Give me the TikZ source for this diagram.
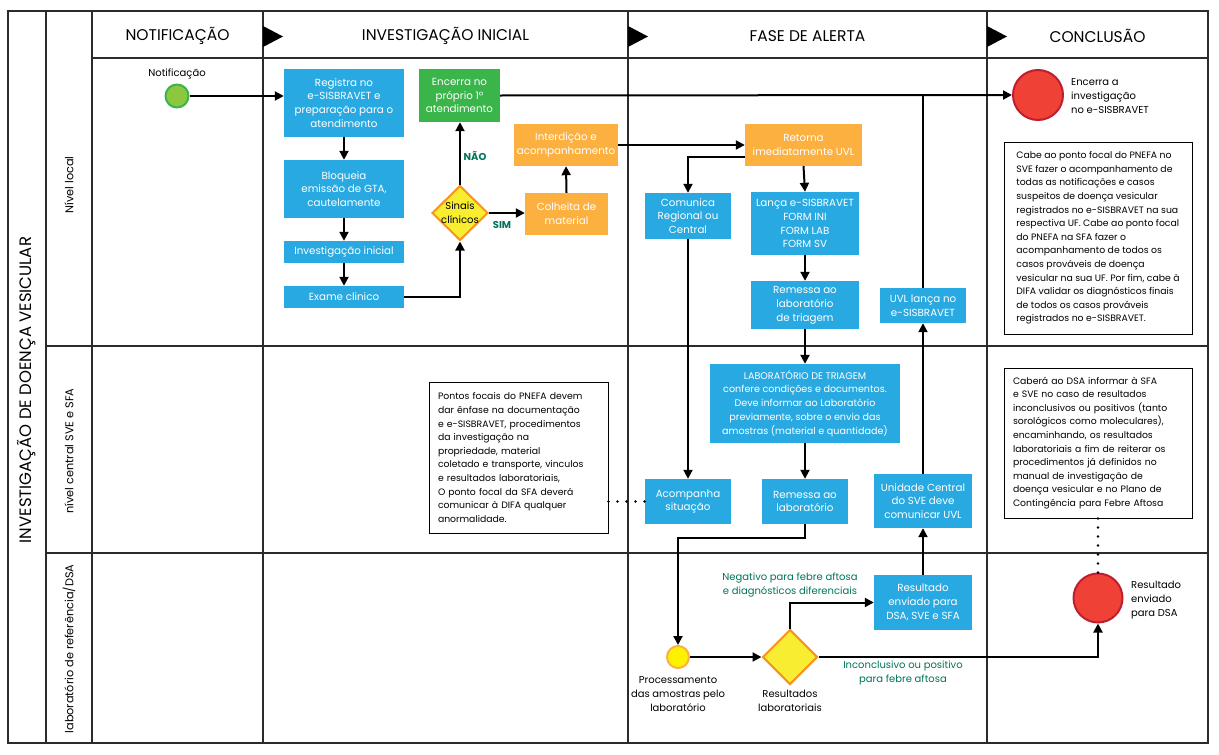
\documentclass[tikz,border=0pt]{standalone}
\usepackage{fontspec}
\setmainfont{Poppins}
\usetikzlibrary{arrows.meta,shapes.geometric}
\definecolor{cblue}{HTML}{29A9E1}
\definecolor{corange}{HTML}{FBB040}
\definecolor{cgreen}{HTML}{39B54A}
\definecolor{clgreen}{HTML}{8DC63F}
\definecolor{cred}{HTML}{EF4136}
\definecolor{cdred}{HTML}{BE1E2D}
\definecolor{cyellow}{HTML}{F9ED32}
\definecolor{cdorange}{HTML}{F7941D}
\definecolor{ctext}{HTML}{00745A}
\definecolor{cgrid}{HTML}{2B2B2B}
\newcommand\bxf{\fontsize{10.3}{13.8}\selectfont}
\newcommand\lbf{\fontsize{10}{13.8}\selectfont}
\newcommand\ntf{\fontsize{9.3}{13.6}\selectfont}
\newcommand\hdf{\fontsize{15.5}{17}\selectfont}
\newcommand\lnf{\fontsize{11.3}{13}\selectfont}
\tikzset{
  grid/.style={line width=1.3pt, draw=cgrid},
  bx/.style={fill=cblue, text=white, align=center, inner sep=0pt, font=\bxf},
  ob/.style={fill=corange, text=white, align=center, inner sep=0pt, font=\bxf},
  gb/.style={fill=cgreen, text=white, align=center, inner sep=0pt, font=\bxf},
  note/.style={draw=black, line width=1pt, fill=white, align=left, inner xsep=4pt, inner ysep=0pt, font=\ntf},
  wnote/.style={note, inner xsep=9pt},
  arr/.style={line width=2pt, -{Triangle[length=9pt,width=9pt]}},
  ln/.style={line width=2pt},
  dots/.style={line width=2.6pt, line cap=round, dash pattern=on 0pt off 9pt},
  lbl/.style={font=\lbf, align=center, inner sep=0pt},
  glbl/.style={font=\lbf, text=ctext, align=center, inner sep=0pt},
  hdr/.style={font=\hdf, inner sep=0pt},
  lane/.style={font=\lnf, rotate=90, inner sep=0pt},
  tri/.style={fill=black},
}
\begin{document}
\begin{tikzpicture}[x=1pt,y=-1pt]
\useasboundingbox (0,0) rectangle (1219,755);
% grid
\draw[grid] (8,11) rectangle (1208,743);
\draw[grid] (46,11) -- (46,743);
\draw[grid] (92,11) -- (92,743);
\draw[grid] (263,11) -- (263,743);
\draw[grid] (628,11) -- (628,743);
\draw[grid] (987,11) -- (987,743);
\draw[grid] (92,58) -- (1208,58);
\draw[grid] (46,346) -- (1208,346);
\draw[grid] (46,553) -- (1208,553);
% header triangles
\fill[tri] (263,26) -- (283,36.5) -- (263,47) -- cycle;
\fill[tri] (628,26) -- (648,36.5) -- (628,47) -- cycle;
\fill[tri] (987,26) -- (1007,36.5) -- (987,47) -- cycle;
% headers
\node[hdr] (h1) at (177.5,36) {NOTIFICAÇÃO};
\node[hdr] (h2) at (445.5,36) {INVESTIGAÇÃO INICIAL};
\node[hdr] (h3) at (807.5,36) {FASE DE ALERTA};
\node[hdr] (h4) at (1097.5,36) {CONCLUSÃO};
\node[hdr, font=\fontsize{16.5}{18}\selectfont, rotate=90] (title) at (27,390) {INVESTIGAÇÃO DE DOENÇA VESICULAR};
\node[lane] (l1) at (69,185) {Nível local};
\node[lane] (l2) at (69,451) {nível central SVE e SFA};
\node[lane] (l3) at (69,649) {laboratório de referência/DSA};
% nodes
\node[circle, fill=clgreen, draw=cgreen, line width=2pt, minimum size=23pt, inner sep=0pt] (not) at (177,96) {};
\node[lbl] (notl) at (177,74) {Notificação};
\node[bx, minimum width=120pt, minimum height=68pt] (reg) at (344,103) {Registra no\\e-SISBRAVET e\\preparação para o\\atendimento};
\node[bx, minimum width=120pt, minimum height=58pt] (blq) at (344,189) {Bloqueia\\emissão de GTA,\\cautelamente};
\node[bx, minimum width=120pt, minimum height=22pt] (inv) at (344,252) {Investigação inicial};
\node[bx, minimum width=120pt, minimum height=22pt] (exa) at (344,297) {Exame clinico};
\node[diamond, fill=cyellow, draw=cdorange, line width=2pt, minimum width=56pt, minimum height=55pt, inner sep=0pt] (sin) at (460,213) {};
\node[lbl] (sint) at (460,213) {Sinais\\clínicos};
\node[gb, minimum width=81pt, minimum height=53pt] (enc) at (459.5,95.5) {Encerra no\\próprio 1º\\atendimento};
\node[ob, minimum width=104pt, minimum height=42pt] (int) at (566,145) {Interdição e\\acompanhamento};
\node[ob, minimum width=83pt, minimum height=42pt] (col) at (566.5,214) {Colheita de\\material};
\node[ob, minimum width=117pt, minimum height=42pt] (ret) at (803.5,145) {Retorna\\imediatamente UVL};
\node[bx, minimum width=86pt, minimum height=46pt] (com) at (688,216) {Comunica\\Regional ou\\Central};
\node[bx, minimum width=108pt, minimum height=63pt] (lan) at (805,223.5) {Lança e-SISBRAVET\\FORM INI\\FORM LAB\\FORM SV};
\node[bx, minimum width=108pt, minimum height=48pt] (rtr) at (805,305) {Remessa ao\\laboratório\\de triagem};
\node[bx, minimum width=86pt, minimum height=35pt] (uvl) at (923,305.5) {UVL lança no\\e-SISBRAVET};
\node[bx, font=\fontsize{9.6}{13.8}\selectfont, minimum width=190pt, minimum height=79pt] (lab) at (805,403.5) {LABORATÓRIO DE TRIAGEM\\confere condições e documentos.\\Deve informar ao Laboratório\\previamente, sobre o envio das\\amostras (material e quantidade)};
\node[bx, minimum width=86pt, minimum height=45pt] (aco) at (688,501.5) {Acompanha\\situação};
\node[bx, minimum width=86pt, minimum height=45pt] (rem) at (805,501.5) {Remessa ao\\laboratório};
\node[bx, minimum width=98pt, minimum height=54pt] (uni) at (923,501) {Unidade Central\\do SVE deve\\comunicar UVL};
\node[bx, minimum width=98pt, minimum height=55pt] (res) at (923,602.5) {Resultado\\enviado para\\DSA, SVE e SFA};
\node[circle, fill=cred, draw=cdred, line width=2pt, minimum size=50pt, inner sep=0pt] (end1) at (1038,95) {};
\node[lbl, anchor=west, align=left] (end1l) at (1071,96) {Encerra a\\investigação\\no e-SISBRAVET};
\node[circle, fill=cred, draw=cdred, line width=2pt, minimum size=49pt, inner sep=0pt] (end2) at (1098,598) {};
\node[lbl, anchor=west, align=left] (end2l) at (1131,600) {Resultado\\enviado\\para DSA};
\node[circle, fill=yellow, draw=corange, line width=2pt, minimum size=22pt, inner sep=0pt] (proc) at (678,657) {};
\node[lbl] (procl) at (678,694) {Processamento\\das amostras pelo\\laboratório};
\node[diamond, fill=cyellow, draw=cdorange, line width=2pt, minimum width=55pt, minimum height=55pt, inner sep=0pt] (rdia) at (790,657) {};
\node[lbl] (rdial) at (790,701) {Resultados\\laboratoriais};
% notes
\node[note, minimum width=188pt, minimum height=192pt] (n1) at (1098,238) {Cabe ao ponto focal do PNEFA no\\SVE fazer o acompanhamento de\\todas as notificações e casos\\suspeitos de doença vesicular\\registrados no e-SISBRAVET na sua\\respectiva UF. Cabe ao ponto focal\\do PNEFA na SFA fazer o\\acompanhamento de todos os\\casos prováveis de doença\\vesicular na sua UF. Por fim, cabe à\\DIFA validar os diagnósticos finais\\de todos os casos prováveis\\registrados no e-SISBRAVET.};
\node[wnote, text width=161pt, minimum height=151pt] (n2) at (518.5,457.5) {Pontos focais do PNEFA devem\\dar ênfase na documentação\\e e-SISBRAVET, procedimentos\\da investigação na\\propriedade, material\\coletado e transporte, vinculos\\e resultados laboratoriais,\\O ponto focal da SFA deverá\\comunicar à DIFA qualquer\\anormalidade.};
\node[wnote, text width=170pt, minimum height=150pt] (n3) at (1098,443) {Caberá ao DSA informar à SFA\\e SVE no caso de resultados\\inconclusivos ou positivos (tanto\\sorológicos como moleculares),\\encaminhando, os resultados\\laboratoriais a fim de reiterar os\\procedimentos já definidos no\\manual de investigação de\\doença vesicular e no Plano de\\Contingência para Febre Aftosa};
% labels
\node[glbl, font=\lbf\bfseries] (nao) at (475,156) {NÃO};
\node[glbl, font=\lbf\bfseries] (sim) at (502,225) {SIM};
\node[glbl] (neg) at (790,585) {Negativo para febre aftosa\\e diagnósticos diferenciais};
\node[glbl] (inc) at (903,673) {Inconclusivo ou positivo\\para febre aftosa};
% connectors
\draw[arr] (not.east) -- (not.east -| reg.west);
\draw[arr] (reg.south) -- (blq.north);
\draw[arr] (blq.south) -- (inv.north);
\draw[arr] (inv.south) -- (exa.north);
\draw[arr] (exa.east) -| (sin.south);
\draw[arr] (sin.north) -- (sin.north |- enc.south);
\draw[arr] (sin.east) -- (sin.east -| col.west);
\draw[arr] (col.north) -- (int.south);
\draw[arr] (int.east) -- (ret.west);
\draw[arr] (enc.east) -- (end1.west);
\draw[arr] ([yshift=-12pt]ret.west) -| (com.north);
\draw[arr] (ret.south) -- (lan.north);
\draw[arr] (lan.south) -- (rtr.north);
\draw[arr] (rtr.south) -- (lab.north);
\draw[arr] (lab.south) -- (rem.north);
\draw[arr] (com.south) -- (aco.north);
\draw[arr] (rem.south) -- ++(0,14) -| (proc.north);
\draw[arr] (proc.east) -- (rdia.west);
\draw[arr] (rdia.north) |- (res.west);
\draw[arr] (res.north) -- (uni.south);
\draw[arr] (uni.north) -- (uvl.south);
\draw[ln] (uvl.north) -- (uvl.north |- end1.west);
\draw[arr] (rdia.east) -| (end2.south);
\draw[dots] (n2.east |- aco.west) -- (aco.west);
\draw[dots] (n3.south) -- (end2.north);
\end{tikzpicture}
\end{document}
